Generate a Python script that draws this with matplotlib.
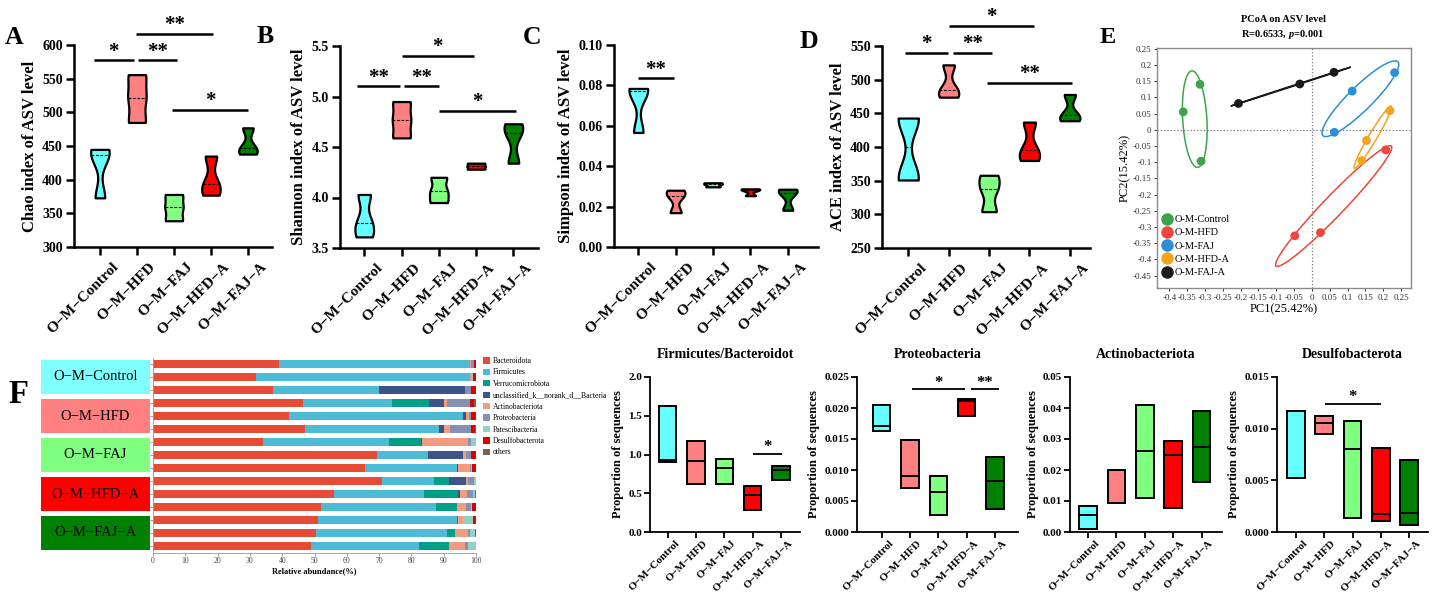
import numpy as np
import matplotlib
matplotlib.use("Agg")
import matplotlib.pyplot as plt
from matplotlib.patches import Ellipse, Rectangle, Patch
from matplotlib.lines import Line2D
from matplotlib.transforms import ScaledTranslation

plt.rcParams['font.family'] = ['Liberation Serif', 'DejaVu Serif']
plt.rcParams['mathtext.fontset'] = 'custom'
plt.rcParams['mathtext.rm'] = 'Liberation Serif:bold'
plt.rcParams['mathtext.it'] = 'Liberation Serif:italic:bold'

# ---------------- data ----------------
groups = ["O\u2212M\u2212Control", "O\u2212M\u2212HFD", "O\u2212M\u2212FAJ", "O\u2212M\u2212HFD\u2212A", "O\u2212M\u2212FAJ\u2212A"]
group_colors = ["#66FFFF", "#FF8080", "#80FF80", "#FF0000", "#008000"]

chao = [[373, 436, 445], [485, 522, 556], [339, 359, 378], [377, 394, 435], [438, 447, 477]]
shannon = [[3.61, 3.75, 4.03], [4.59, 4.77, 4.95], [3.95, 4.06, 4.20], [4.28, 4.31, 4.34], [4.34, 4.64, 4.73]]
simpson = [[0.0567, 0.0770, 0.0785], [0.0170, 0.0253, 0.0281], [0.0298, 0.0310, 0.0318],
           [0.0254, 0.0282, 0.0288], [0.0182, 0.0269, 0.0286]]
ace = [[351, 357, 442, 443], [474, 485, 522], [304, 338, 358], [380, 395, 437], [439, 447, 478]]

chao_ticks = [300, 350, 400, 450, 500, 550, 600]
shannon_ticks = [3.5, 4.0, 4.5, 5.0, 5.5]
simpson_ticks = [0.00, 0.02, 0.04, 0.06, 0.08, 0.10]
ace_ticks = [250, 300, 350, 400, 450, 500, 550]

# significance annotations: (x_start, x_end, y, label)
chao_sig = [(-0.17, 0.91, 577, "*"), (1.04, 2.07, 577, "**"), (0.97, 3.06, 617, "**"), (1.96, 4.0, 504, "*")]
shannon_sig = [(-0.19, 0.97, 5.10, "**"), (1.07, 2.0, 5.10, "**"), (1.0, 2.94, 5.40, "*"), (2.0, 4.07, 4.86, "*")]
simpson_sig = [(0.0, 0.95, 0.0835, "**")]
ace_sig = [(-0.08, 0.98, 540, "*"), (1.12, 2.07, 540, "**"), (1.02, 3.11, 580, "*"), (1.94, 4.06, 495, "**")]

# PCoA
pcoa_labels = ["O-M-Control", "O-M-HFD", "O-M-FAJ", "O-M-HFD-A", "O-M-FAJ-A"]
pcoa_colors = ["#3FA34D", "#F0453A", "#2A8FD8", "#F7A21F", "#1A1A1A"]
pc1 = [[-0.361, -0.314, -0.311], [0.207, 0.024, -0.048], [0.113, 0.232, 0.063],
       [0.219, 0.153, 0.140], [-0.206, -0.034, 0.062]]
pc2 = [[0.055, 0.140, -0.097], [-0.062, -0.317, -0.327], [0.119, 0.176, -0.008],
       [0.059, -0.033, -0.095], [0.081, 0.141, 0.177]]
pc1_ticks = [-0.4, -0.35, -0.3, -0.25, -0.2, -0.15, -0.1, -0.05, 0, 0.05, 0.1, 0.15, 0.2, 0.25]
pc1_ticklabels = ["-0.4", "-0.35", "-0.3", "-0.25", "-0.2", "-0.15", "-0.1", "-0.05", "0", "0.05", "0.1", "0.15", "0.2", "0.25"]
pc2_ticks = [0.25, 0.2, 0.15, 0.1, 0.05, 0, -0.05, -0.1, -0.15, -0.2, -0.25, -0.3, -0.35, -0.4, -0.45]
pc2_ticklabels = ["0.25", "0.2", "0.15", "0.1", "0.05", "0", "-0.05", "-0.1", "-0.15", "-0.2", "-0.25", "-0.3", "-0.35", "-0.4", "-0.45"]

# Community composition (15 samples, top to bottom)
phyla = ["Bacteroidota", "Firmicutes", "Verrucomicrobiota", "unclassified_k__norank_d__Bacteria",
         "Actinobacteriota", "Proteobacteria", "Patescibacteria", "Desulfobacterota", "others"]
phyla_colors = ["#E64B35", "#4DBBD5", "#00A087", "#3C5488", "#F39B7F", "#8491B4", "#91D1C2", "#DC0000", "#7E6148"]
bacteroidota = [39, 32, 37, 46.5, 42, 47, 34, 69.5, 65.5, 71, 56, 52, 51, 50.5, 49]
firmicutes = [59.1, 66.1, 33, 27.5, 54, 41.5, 39, 15.5, 28.5, 16, 28, 35.5, 43, 40.5, 33.5]
verrucomicrobiota = [0, 0, 0, 11.5, 0, 0, 10, 0, 0, 4.5, 10.5, 6.5, 0.3, 2.5, 9]
unclassified = [0, 0, 26.5, 4.5, 1, 1.5, 0.2, 11, 0.3, 5.5, 0.5, 0, 0, 0, 0]
actinobacteriota = [0.5, 0.7, 0, 1, 0.8, 2, 14.3, 1, 3.7, 0.5, 2.2, 3, 1.7, 4, 5]
proteobacteria = [0.7, 0, 2, 7, 0.5, 6.5, 0.8, 1.5, 0.6, 2, 2, 1.5, 0, 0.7, 1]
patescibacteria = [0, 0.4, 0, 0, 0.3, 0, 1.7, 0, 0.3, 0.5, 0.5, 0.3, 3, 1.5, 2.5]
desulfobacterota = [0.7, 0.8, 1.5, 1.5, 1.4, 1.3, 0, 1.5, 1.1, 0, 0, 1.2, 1, 0, 0]
others = [0, 0, 0, 0.5, 0, 0.2, 0, 0, 0, 0, 0.3, 0, 0, 0.3, 0]
composition = [bacteroidota, firmicutes, verrucomicrobiota, unclassified, actinobacteriota,
               proteobacteria, patescibacteria, desulfobacterota, others]
abund_ticks = [0, 10, 20, 30, 40, 50, 60, 70, 80, 90, 100]

# Floating bars (min, max, line)
fb_low = [0.905, 0.619, 0.619, 0.284, 0.675]
fb_high = [1.626, 1.178, 0.942, 0.594, 0.847]
fb_mid = [0.933, 0.912, 0.821, 0.473, 0.804]
pro_low = [0.01624, 0.0071, 0.0028, 0.01876, 0.00376]
pro_high = [0.02054, 0.01489, 0.00903, 0.0214, 0.0121]
pro_mid = [0.01704, 0.00903, 0.0065, 0.0212, 0.00828]
act_low = [0.00097, 0.0092, 0.0110, 0.0076, 0.0161]
act_high = [0.00823, 0.0201, 0.0409, 0.0292, 0.0390]
act_mid = [0.00552, 0.0201, 0.0260, 0.0247, 0.0275]
des_low = [0.00526, 0.00945, 0.00136, 0.00104, 0.00071]
des_high = [0.01175, 0.01123, 0.01075, 0.00812, 0.00695]
des_mid = [0.01175, 0.01058, 0.00805, 0.00175, 0.00182]

fb_ticks, fb_ticklabels = [0, 0.5, 1.0, 1.5, 2.0], ["0.0", "0.5", "1.0", "1.5", "2.0"]
pro_ticks, pro_ticklabels = [0, 0.005, 0.010, 0.015, 0.020, 0.025], ["0.000", "0.005", "0.010", "0.015", "0.020", "0.025"]
act_ticks, act_ticklabels = [0, 0.01, 0.02, 0.03, 0.04, 0.05], ["0.00", "0.01", "0.02", "0.03", "0.04", "0.05"]
des_ticks, des_ticklabels = [0, 0.005, 0.010, 0.015], ["0.000", "0.005", "0.010", "0.015"]

fb_sig = [(3.0, 4.05, 1.006, "*")]
pro_sig = [(1.08, 2.94, 0.023, "*"), (3.15, 4.14, 0.023, "**")]
des_sig = [(1.03, 3.0, 0.0124, "*")]

# ---------------- figure ----------------
W, H = 1432, 599
fig = plt.figure(figsize=(W / 100, H / 100), dpi=100)


def add_ax(x0, y0, x1, y1):
    return fig.add_axes([x0 / W, 1 - y1 / H, (x1 - x0) / W, (y1 - y0) / H])


def shift_xlabels(ax, dx, dy=0):
    off = ScaledTranslation(dx / 100, dy / 100, fig.dpi_scale_trans)
    for lab in ax.get_xticklabels():
        lab.set_transform(lab.get_transform() + off)


def draw_sig(ax, sig, lw, fs):
    for x1, x2, y, lab in sig:
        ax.plot([x1, x2], [y, y], color='black', lw=lw, clip_on=False, solid_capstyle='butt')
        ax.annotate(lab, ((x1 + x2) / 2, y), xytext=(0, -1), textcoords='offset points',
                    ha='center', va='bottom', fontsize=fs, fontweight='bold', annotation_clip=False)


def violin_panel(rect, data, xlim, ylim, yticks, ylabels, ylabel, sig):
    ax = add_ax(*rect)
    pos = np.arange(len(data))
    parts = ax.violinplot(data, positions=pos, widths=0.5, showextrema=False, bw_method=0.45)
    for p, body, col, d in zip(pos, parts['bodies'], group_colors, data):
        body.set_facecolor(col)
        body.set_edgecolor('black')
        body.set_linewidth(1.6)
        body.set_alpha(1)
        v = body.get_paths()[0].vertices
        right = v[v[:, 0] > p + 1e-12]
        order = np.argsort(right[:, 1])
        med = np.median(d)
        half = np.interp(med, right[order, 1], right[order, 0]) - p
        ax.plot([p - half, p + half], [med, med], color='black', lw=0.8, ls=(0, (2.5, 1.5)))
    ax.set_xlim(*xlim)
    ax.set_ylim(*ylim)
    for s in ['top', 'right']:
        ax.spines[s].set_visible(False)
    for s in ['left', 'bottom']:
        ax.spines[s].set_linewidth(1.8)
    ax.set_yticks(yticks, ylabels, fontsize=10, fontweight='bold')
    ax.set_xticks(pos, groups, rotation=45, ha='right', va='top', rotation_mode='anchor',
                  fontsize=11, fontweight='bold')
    ax.tick_params(width=1.8, length=6, pad=2)
    ax.set_ylabel(ylabel, fontsize=12, fontweight='bold', labelpad=3)
    shift_xlabels(ax, 12, -2)
    draw_sig(ax, sig, 1.8, 15)
    return ax


violin_panel((74, 45, 272, 247), chao, (-0.7, 4.65), (300, 600), chao_ticks,
             [str(t) for t in chao_ticks], "Chao index of ASV level", chao_sig)
violin_panel((340, 46, 538, 248), shannon, (-0.65, 4.66), (3.5, 5.5), shannon_ticks,
             ["%.1f" % t for t in shannon_ticks], "Shannon index of ASV level", shannon_sig)
violin_panel((614, 45, 818, 247), simpson, (-0.65, 4.81), (0, 0.10), simpson_ticks,
             ["%.2f" % t for t in simpson_ticks], "Simpson index of ASV level", simpson_sig)
violin_panel((882, 46, 1090, 248), ace, (-0.65, 4.5), (250, 550), ace_ticks,
             [str(t) for t in ace_ticks], "ACE index of ASV level", ace_sig)

# ---------------- Panel E: PCoA ----------------
axE = add_ax(1157, 48, 1411, 288)
axE.axhline(0, color='#777777', lw=0.9, ls=':', zorder=0)
axE.axvline(0, color='#777777', lw=0.9, ls=':', zorder=0)
handles = []
for xs, ys, col, lab in zip(pc1, pc2, pcoa_colors, pcoa_labels):
    xs = np.asarray(xs); ys = np.asarray(ys)
    cov = np.cov(xs, ys)
    vals, vecs = np.linalg.eigh(cov)
    idx = np.argsort(vals)[::-1]
    vals = np.clip(vals[idx], 0, None); vecs = vecs[:, idx]
    ang = np.degrees(np.arctan2(vecs[1, 0], vecs[0, 0]))
    k = 1.24
    axE.add_patch(Ellipse((xs.mean(), ys.mean()), 2 * k * np.sqrt(vals[0]), 2 * k * np.sqrt(vals[1]),
                          angle=ang, fill=False, edgecolor=col, lw=1.1, zorder=2))
    axE.scatter(xs, ys, s=40, color=col, zorder=3, edgecolors='none')
    handles.append(Line2D([], [], marker='o', ls='none', color=col, markersize=8))
axE.set_xlim(-0.4346, 0.278)
axE.set_ylim(-0.488, 0.252)
axE.set_xticks(pc1_ticks, pc1_ticklabels, fontsize=6.5)
axE.set_yticks(pc2_ticks, pc2_ticklabels, fontsize=6.5)
axE.tick_params(length=2.5, width=0.7, pad=1.5, colors='#333333')
for s in axE.spines.values():
    s.set_color('#8a8a8a'); s.set_linewidth(1.0)
axE.set_xlabel("PC1(25.42%)", fontsize=9, labelpad=1)
axE.set_ylabel("PC2(15.42%)", fontsize=9, labelpad=1)
axE.legend(handles, pcoa_labels, loc='lower left', bbox_to_anchor=(0.02, 0.045), frameon=False,
           fontsize=7.5, handletextpad=0.25, labelspacing=0.38, handlelength=1.0,
           borderpad=0, borderaxespad=0)
fig.text(1283 / W, 1 - 22 / H, "PCoA on ASV level", ha='center', va='baseline', fontsize=7.5, fontweight='bold')
fig.text(1283 / W, 1 - 37 / H, r"R=0.6533, $\mathit{p}$=0.001", ha='center', va='baseline', fontsize=7.5,
         fontweight='bold')

# ---------------- Panel F: stacked bars ----------------
axF = add_ax(153, 357.5, 476, 552.5)
rows = np.arange(len(bacteroidota))
left = np.zeros(len(rows))
for vals, col in zip(composition, phyla_colors):
    vals = np.asarray(vals, dtype=float)
    axF.barh(rows, vals, left=left, height=0.66, color=col, linewidth=0)
    left += vals
axF.set_ylim(len(rows) - 0.5, -0.5)
axF.set_xlim(0, 100)
axF.set_yticks(rows, [""] * len(rows))
axF.set_xticks(abund_ticks, [str(t) for t in abund_ticks], fontsize=5.5, color='#444444')
axF.tick_params(length=2, width=0.5, colors='#777777', pad=1.5)
axF.tick_params(axis='x', labelcolor='#444444')
for s in ['top', 'right']:
    axF.spines[s].set_visible(False)
for s in ['left', 'bottom']:
    axF.spines[s].set_color('#999999'); axF.spines[s].set_linewidth(0.6)
axF.set_xlabel("Relative abundance(%)", fontsize=6, fontweight='bold', labelpad=1)
fig.legend([Patch(facecolor=c) for c in phyla_colors], phyla, loc='upper left',
           bbox_to_anchor=(483 / W, 1 - 357 / H), frameon=False, fontsize=5.5,
           handlelength=0.9, handleheight=0.9, handletextpad=0.4, labelspacing=0.45,
           borderpad=0, borderaxespad=0)

axL = add_ax(41, 357.5, 150, 552.5)
axL.set_xlim(0, 1)
axL.set_ylim(len(rows) - 0.5, -0.5)
axL.axis('off')
box_colors = ["#80FFFF", "#FF8080", "#80FF80", "#FF0000", "#008000"]
for g, (lab, col) in enumerate(zip(groups, box_colors)):
    axL.add_patch(Rectangle((0, 3 * g - 0.3), 1, 2.6, facecolor=col, edgecolor='none'))
    axL.text(0.5, 3 * g + 1, lab, ha='center', va='center', fontsize=10.5)

# ---------------- bottom floating bar panels ----------------


def float_panel(rect, xlim, low, high, mid, ticks, ticklabels, title, sig):
    ax = add_ax(*rect)
    pos = np.arange(len(low))
    low = np.asarray(low); high = np.asarray(high)
    ax.bar(pos, high - low, bottom=low, width=0.62, color=group_colors, edgecolor='black', linewidth=1.4)
    for p, m in zip(pos, mid):
        ax.plot([p - 0.31, p + 0.31], [m, m], color='black', lw=1.4)
    ax.set_xlim(*xlim)
    ax.set_ylim(ticks[0], ticks[-1])
    for s in ['top', 'right']:
        ax.spines[s].set_visible(False)
    for s in ['left', 'bottom']:
        ax.spines[s].set_linewidth(1.3)
    ax.set_yticks(ticks, ticklabels, fontsize=8, fontweight='bold')
    ax.set_xticks(pos, groups, rotation=45, ha='right', va='top', rotation_mode='anchor',
                  fontsize=7.8, fontweight='bold')
    ax.tick_params(width=1.3, length=4, pad=1.5)
    ax.set_ylabel("Proportion of sequences", fontsize=9, fontweight='bold', labelpad=3)
    ax.set_title(title, fontsize=10, fontweight='bold', pad=14)
    shift_xlabels(ax, 7, 1)
    draw_sig(ax, sig, 1.3, 12)
    return ax


float_panel((650, 377, 800, 532), (-0.62, 4.67), fb_low, fb_high, fb_mid, fb_ticks, fb_ticklabels,
            "Firmicutes/Bacteroidot", fb_sig)
float_panel((857, 377, 1018, 532), (-0.87, 4.81), pro_low, pro_high, pro_mid, pro_ticks, pro_ticklabels,
            "Proteobacteria", pro_sig)
float_panel((1070, 377, 1222, 532), (-0.63, 4.72), act_low, act_high, act_mid, act_ticks, act_ticklabels,
            "Actinobacteriota", [])
float_panel((1277, 377, 1428, 532), (-0.67, 4.67), des_low, des_high, des_mid, des_ticks, des_ticklabels,
            "Desulfobacterota", des_sig)

# ---------------- panel letters ----------------
for letter, x, y, fs in [("A", 5, 44, 18.5), ("B", 257, 43, 18.5), ("C", 523, 44, 18.5),
                         ("D", 800, 48, 18.5), ("E", 1100, 43, 17.5), ("F", 8, 403, 23.5)]:
    fig.text(x / W, 1 - y / H, letter, fontsize=fs, fontweight='bold', ha='left', va='baseline')

fig.savefig("out.png", dpi=100)
